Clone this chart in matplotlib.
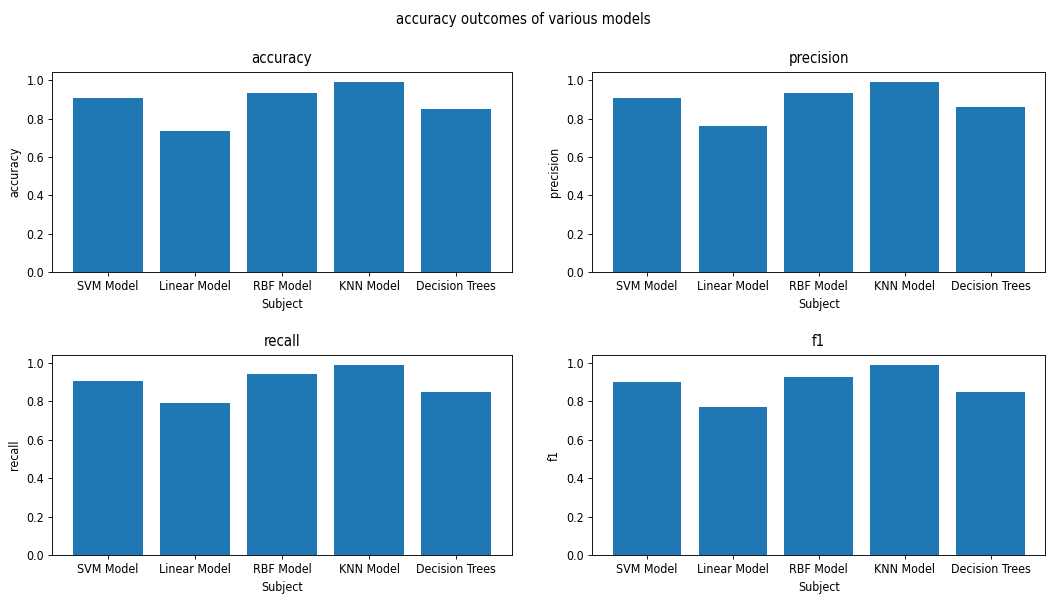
import matplotlib
matplotlib.use("Agg")
import matplotlib.pyplot as plt

# scores for each model
models = ['SVM Model', 'Linear Model', 'RBF Model', 'KNN Model', 'Decision Trees']
accuracy = [0.905, 0.734, 0.934, 0.993, 0.851]
precision = [0.905, 0.763, 0.934, 0.993, 0.860]
recall = [0.907, 0.791, 0.941, 0.990, 0.848]
f1 = [0.898, 0.770, 0.927, 0.990, 0.848]

metrics = ['accuracy', 'precision', 'recall', 'f1']
scores = [accuracy, precision, recall, f1]

plt.rcParams['font.family'] = 'DejaVu Sans'
plt.rcParams['font.stretch'] = 'condensed'
plt.rcParams['font.size'] = 11.2

fig = plt.figure(figsize=(1046 / 80, 595 / 80), dpi=80)

# axes boxes in figure fractions: left, bottom, width, height
boxes = [
    [0.0497, 0.543, 0.4398, 0.336],
    [0.566, 0.543, 0.4335, 0.336],
    [0.0497, 0.0672, 0.4398, 0.336],
    [0.566, 0.0672, 0.4335, 0.336],
]

for box, name, vals in zip(boxes, metrics, scores):
    ax = fig.add_axes(box)
    ax.bar(models, vals, color='#1f77b4')
    ax.set_title(name, pad=8)
    ax.set_ylabel(name, labelpad=5)
    ax.set_xlabel('Subject', labelpad=5)

fig.suptitle('accuracy outcomes of various models', y=0.98)
fig.savefig('out.png', dpi=80)
